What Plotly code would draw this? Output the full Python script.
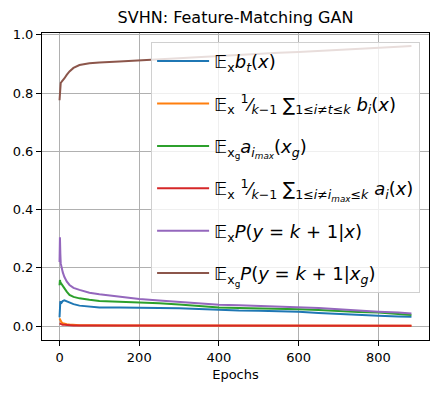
import plotly.graph_objects as go

epochs = [0, 1, 2, 3, 5, 8, 12, 18, 25, 35, 50, 75, 100, 150, 200, 250, 300,
          350, 400, 450, 500, 550, 600, 650, 700, 750, 800, 850, 883]

b_t = [0.030, 0.075, 0.085, 0.082, 0.080, 0.086, 0.088, 0.084, 0.080, 0.075,
       0.070, 0.066, 0.064, 0.064, 0.064, 0.062, 0.061, 0.058, 0.055, 0.053,
       0.052, 0.051, 0.049, 0.045, 0.041, 0.038, 0.035, 0.033, 0.032]

b_others = [0.026, 0.022, 0.018, 0.016, 0.013, 0.010, 0.008, 0.006, 0.005, 0.004,
            0.003, 0.003, 0.002, 0.002, 0.002, 0.002, 0.002, 0.002, 0.002, 0.002,
            0.002, 0.002, 0.002, 0.002, 0.001, 0.001, 0.001, 0.001, 0.001]

a_imax = [0.140, 0.158, 0.152, 0.148, 0.143, 0.137, 0.130, 0.118, 0.107, 0.100,
          0.095, 0.090, 0.086, 0.083, 0.081, 0.078, 0.074, 0.069, 0.064, 0.062,
          0.061, 0.060, 0.058, 0.055, 0.051, 0.048, 0.046, 0.042, 0.038]

a_others = [0.009, 0.008, 0.007, 0.006, 0.005, 0.004, 0.004, 0.003, 0.003, 0.002,
            0.002, 0.002, 0.002, 0.001, 0.001, 0.001, 0.001, 0.001, 0.001, 0.001,
            0.001, 0.001, 0.001, 0.001, 0.001, 0.001, 0.001, 0.001, 0.001]

p_fake_real = [0.220, 0.305, 0.250, 0.215, 0.199, 0.185, 0.169, 0.153, 0.141, 0.131,
               0.124, 0.114, 0.109, 0.100, 0.093, 0.088, 0.083, 0.078, 0.073, 0.071,
               0.069, 0.067, 0.065, 0.062, 0.058, 0.053, 0.049, 0.046, 0.043]

p_fake_gen = [0.775, 0.825, 0.832, 0.835, 0.838, 0.842, 0.850, 0.862, 0.874, 0.886,
              0.896, 0.902, 0.905, 0.908, 0.912, 0.914, 0.918, 0.922, 0.926, 0.930,
              0.934, 0.938, 0.941, 0.945, 0.949, 0.952, 0.956, 0.959, 0.961]

labels = [
    "𝔼<sub>x</sub><i>b<sub>t</sub></i>(<i>x</i>)",
    "𝔼<sub>x</sub> <sup>1</sup>⁄<sub><i>k</i>−1</sub> ∑<sub>1≤<i>i</i>≠<i>t</i>≤<i>k</i></sub> <i>b<sub>i</sub></i>(<i>x</i>)",
    "𝔼<sub>x<sub>g</sub></sub><i>a<sub>i<sub>max</sub></sub></i>(<i>x<sub>g</sub></i>)",
    "𝔼<sub>x</sub> <sup>1</sup>⁄<sub><i>k</i>−1</sub> ∑<sub>1≤<i>i</i>≠<i>i<sub>max</sub></i>≤<i>k</i></sub> <i>a<sub>i</sub></i>(<i>x</i>)",
    "𝔼<sub>x</sub><i>P</i>(<i>y</i> = <i>k</i> + 1|<i>x</i>)",
    "𝔼<sub>x<sub>g</sub></sub><i>P</i>(<i>y</i> = <i>k</i> + 1|<i>x<sub>g</sub></i>)",
]
series = [b_t, b_others, a_imax, a_others, p_fake_real, p_fake_gen]
colors = ["#1f77b4", "#ff7f0e", "#2ca02c", "#d62728", "#9467bd", "#8c564b"]

fig = go.Figure()
for i, (vals, name, col) in enumerate(zip(series, labels, colors)):
    fig.add_trace(go.Scatter(
        x=epochs, y=vals, mode="lines", name=name,
        line=dict(color=col, width=2), legendgroup=str(i)
    ))

axis_style = dict(
    showline=True, linecolor="black", linewidth=1, mirror=True,
    ticks="outside", ticklen=5, tickcolor="black",
    showgrid=True, gridcolor="#b0b0b0", gridwidth=1, zeroline=False,
    tickfont=dict(size=13, color="black"), automargin=False
)

fig.update_layout(
    width=442, height=393,
    margin=dict(l=42, r=13, t=33, b=53),
    paper_bgcolor="white", plot_bgcolor="white",
    font=dict(family="DejaVu Sans", color="black"),
    title=dict(text="SVHN: Feature-Matching GAN", x=0.5, xref="paper",
               y=0.955, yanchor="middle", font=dict(size=16), automargin=False),
    xaxis=dict(axis_style, range=[-44, 927], tickvals=[0, 200, 400, 600, 800],
               title=dict(text="Epochs", font=dict(size=13), standoff=6)),
    yaxis=dict(axis_style, range=[-0.048, 1.006], tickvals=[0, 0.2, 0.4, 0.6, 0.8, 1.0],
               tickformat=".1f"),
    legend=dict(x=0.977, y=0.971, xanchor="right", yanchor="top",
                bgcolor="rgba(255,255,255,0.8)", bordercolor="#d0d0d0", borderwidth=1,
                font=dict(size=18), tracegroupgap=16, itemwidth=52,
                traceorder="grouped"),
    showlegend=True,
)

fig.write_html("out.html", config={"displayModeBar": False},
               post_script="document.body.style.margin='0';")
